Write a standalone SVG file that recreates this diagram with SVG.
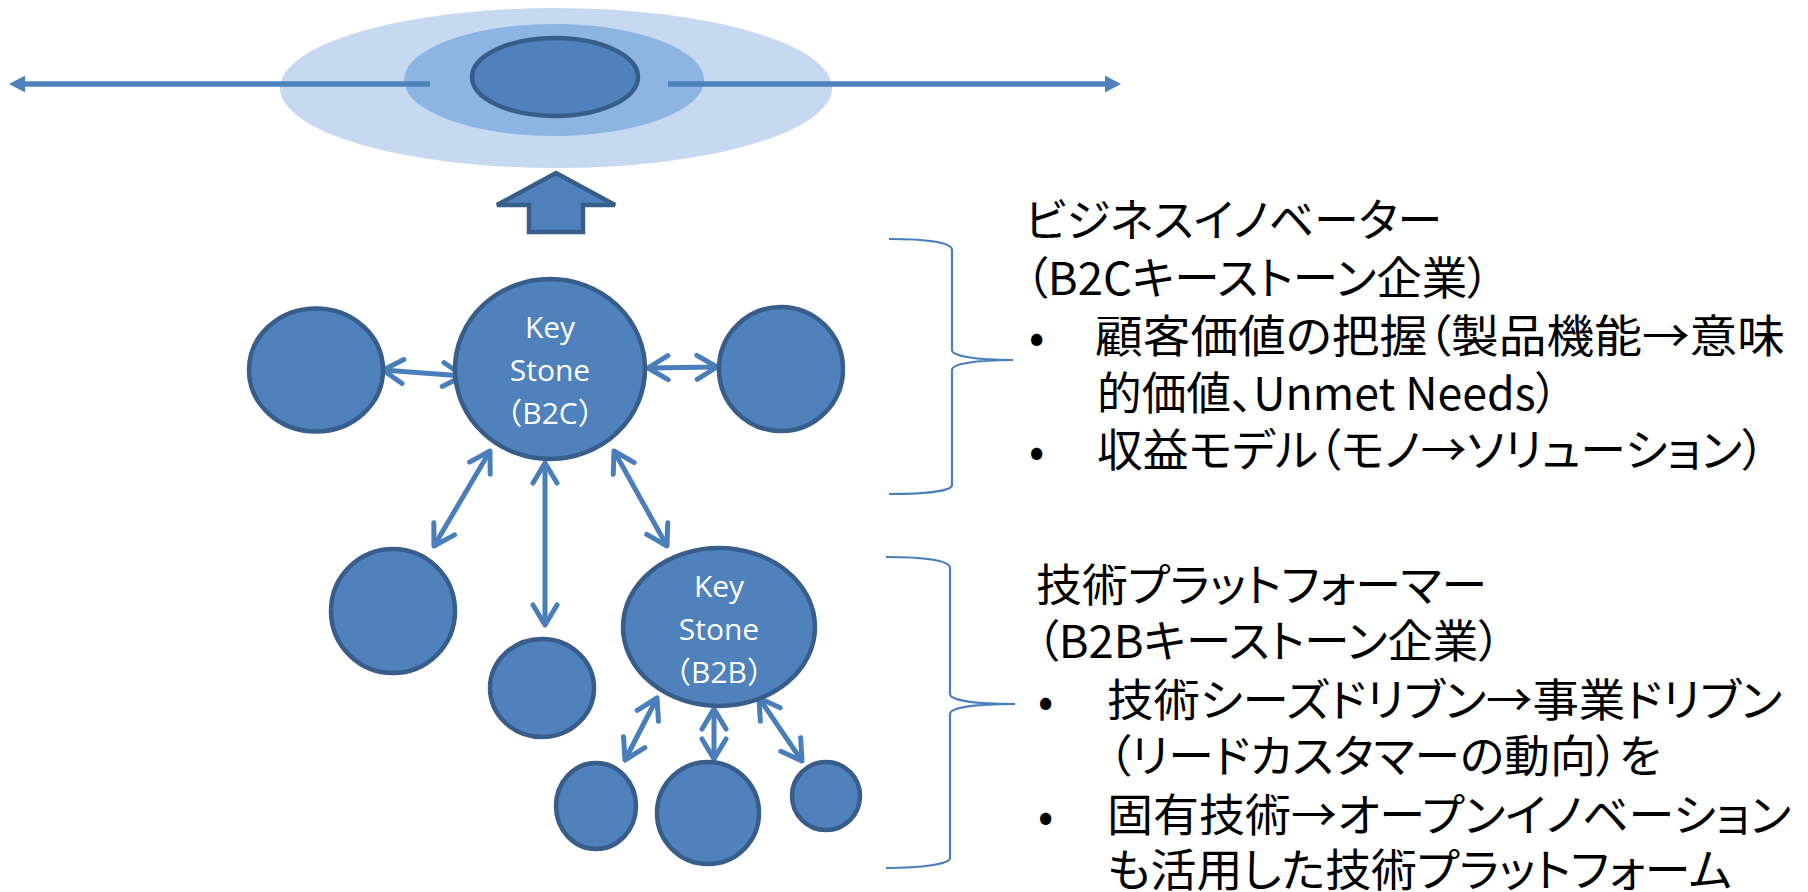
<svg xmlns="http://www.w3.org/2000/svg" width="1808" height="892" viewBox="0 0 1808 892">
<style>
.node{fill:#4f81bd;stroke:#385d8a;stroke-width:4.5}
.conn{fill:none;stroke:#4a7ebb;stroke-width:5;marker-start:url(#open);marker-end:url(#open)}
.lbl{font-family:"Open Sans","Noto Sans CJK JP",sans-serif;font-size:30px;fill:#ffffff;text-anchor:middle}
.txt{font-family:"Noto Sans CJK JP","Noto Sans",sans-serif;font-size:45px;fill:#000000;font-feature-settings:"palt"}
.brace{fill:none;stroke:#4a7ebb;stroke-width:2.2}
.hline{fill:none;stroke:#4f81bd;stroke-width:5.5;marker-end:url(#tri)}
</style>
<defs>
<marker id="open" viewBox="-25 -16 29 32" markerWidth="29" markerHeight="32" refX="0" refY="0" orient="auto-start-reverse" markerUnits="userSpaceOnUse">
<path d="M-20,-12 L0,0 L-20,12" fill="none" stroke="#4a7ebb" stroke-width="5" stroke-linecap="round" stroke-linejoin="round"/>
</marker>
<marker id="tri" viewBox="-6 -10 18 20" markerWidth="18" markerHeight="20" refX="0" refY="0" orient="auto" markerUnits="userSpaceOnUse">
<path d="M-5,-8.5 L11,0 L-5,8.5 Z" fill="#4f81bd"/>
</marker>
</defs>

<g id="top">
<ellipse cx="556" cy="88" rx="276" ry="80" fill="#c6d9f1"/>
<ellipse cx="554" cy="80" rx="150" ry="56" fill="#8eb4e3"/>
<ellipse cx="555" cy="77" rx="83" ry="39" class="node" stroke-width="5"/>
<path class="hline" d="M430,84 L20,84"/>
<path class="hline" d="M668,84 L1110,84"/>
<polygon class="node" stroke-width="4" points="556,173 615,205 583,205 583,232 529,232 529,205 497,205"/>
</g>

<g id="connectors">
<path class="conn" d="M383,370 L463,376"/>
<path class="conn" d="M648,368 L717,367"/>
<path class="conn" d="M490,451 L434,546"/>
<path class="conn" d="M545,463 L545,625"/>
<path class="conn" d="M614,451 L667,546"/>
<path class="conn" d="M657,698 L625,760"/>
<path class="conn" d="M714,709 L714,759"/>
<path class="conn" d="M759,698 L802,761"/>
</g>

<g id="n-left"><ellipse class="node" cx="316" cy="370" rx="67" ry="61.5"/></g>
<g id="n-b2c">
<ellipse class="node" cx="550" cy="369" rx="95" ry="90"/>
<text class="lbl" x="550" y="338">Key</text>
<text class="lbl" x="550" y="381">Stone</text>
<text class="lbl" x="550" y="424">（B2C）</text>
</g>
<g id="n-right"><ellipse class="node" cx="781" cy="369" rx="62" ry="62"/></g>
<g id="n-bl"><ellipse class="node" cx="393" cy="611" rx="62" ry="62"/></g>
<g id="n-mid"><ellipse class="node" cx="542" cy="688" rx="52" ry="49"/></g>
<g id="n-b2b">
<ellipse class="node" cx="719" cy="627" rx="96" ry="79"/>
<text class="lbl" x="719" y="597">Key</text>
<text class="lbl" x="719" y="640">Stone</text>
<text class="lbl" x="719" y="683">（B2B）</text>
</g>
<g id="n-s1"><ellipse class="node" cx="596" cy="806" rx="40" ry="43"/></g>
<g id="n-s2"><ellipse class="node" cx="708" cy="813" rx="51" ry="51"/></g>
<g id="n-s3"><ellipse class="node" cx="826" cy="796" rx="34" ry="34"/></g>

<g id="brace1">
<path class="brace" d="M889,239 C925,239 952,242 952,250 L952,350 C952,356 975,360 1013,360 C975,360 952,364 952,370 L952,485 C952,491 925,494 889,494"/>
</g>
<g id="brace2">
<path class="brace" d="M886,557 C922,557 950,560 950,568 L950,694 C950,700 973,704 1015,704 C973,704 950,708 950,714 L950,858 C950,864 922,868 886,868"/>
</g>

<g id="text1">
<text class="txt" x="1025" y="237" textLength="417" lengthAdjust="spacingAndGlyphs">ビジネスイノベーター</text>
<text class="txt" x="1025" y="295" textLength="465" lengthAdjust="spacingAndGlyphs">（B2Cキーストーン企業）</text>
<text class="txt" x="1029" y="353">•</text>
<text class="txt" x="1095" y="353" textLength="690" lengthAdjust="spacingAndGlyphs">顧客価値の把握（製品機能→意味</text>
<text class="txt" x="1097" y="410" textLength="461" lengthAdjust="spacingAndGlyphs">的価値、Unmet Needs）</text>
<text class="txt" x="1029" y="467">•</text>
<text class="txt" x="1097" y="467" textLength="668" lengthAdjust="spacingAndGlyphs">収益モデル（モノ→ソリューション）</text>
</g>
<g id="text2">
<text class="txt" x="1036" y="602" textLength="451" lengthAdjust="spacingAndGlyphs">技術プラットフォーマー</text>
<text class="txt" x="1036" y="658" textLength="465" lengthAdjust="spacingAndGlyphs">（B2Bキーストーン企業）</text>
<text class="txt" x="1038" y="717">•</text>
<text class="txt" x="1107" y="717" textLength="675" lengthAdjust="spacingAndGlyphs">技術シーズドリブン→事業ドリブン</text>
<text class="txt" x="1108" y="773" textLength="553" lengthAdjust="spacingAndGlyphs">（リードカスタマーの動向）を</text>
<text class="txt" x="1038" y="832">•</text>
<text class="txt" x="1107" y="832" textLength="684" lengthAdjust="spacingAndGlyphs">固有技術→オープンイノベーション</text>
<text class="txt" x="1107" y="887" textLength="625" lengthAdjust="spacingAndGlyphs">も活用した技術プラットフォーム</text>
</g>
</svg>
